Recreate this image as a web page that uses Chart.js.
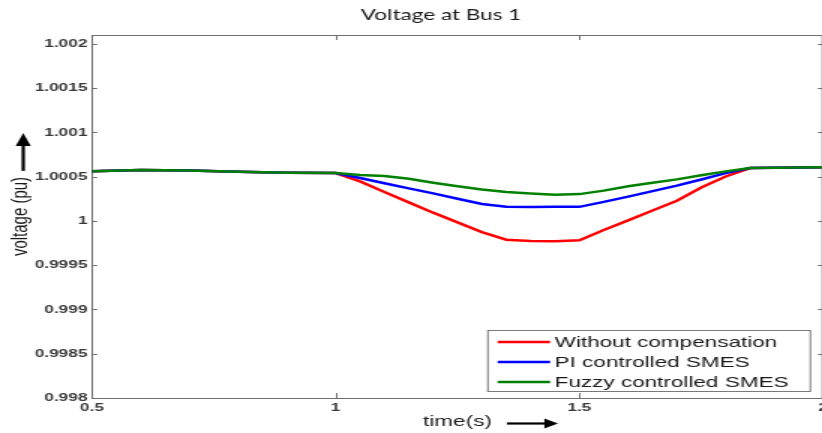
<!DOCTYPE html>
<html>
<head>
<meta charset="utf-8">
<script src="https://cdn.jsdelivr.net/npm/chart.js@4/dist/chart.umd.min.js"></script>
<style>
  html, body { margin: 0; padding: 0; background: #fff; }
  #frame { width: 822px; height: 433px; overflow: hidden; position: relative; }
  /* the reference picture is stretched sideways, so draw narrow and stretch */
  #stretch { width: 550px; height: 433px; transform: scaleX(1.5); transform-origin: 0 0; }
</style>
</head>
<body>
<div id="frame"><div id="stretch"><canvas id="chart"></canvas></div></div>
<script>
// time axis (s)
const times = [0.5, 0.6, 0.7, 0.8, 0.9, 1.0, 1.05, 1.1, 1.15, 1.2, 1.25, 1.3, 1.35, 1.4, 1.45, 1.5, 1.55, 1.6, 1.65, 1.7, 1.75, 1.8, 1.85, 1.9, 2.0];

// voltage at bus 1 (pu)
const withoutComp = [1.00056, 1.000575, 1.00057, 1.000555, 1.000545, 1.00054, 1.000446, 1.000327, 1.00021, 1.000093, 0.999983, 0.999873, 0.999788, 0.999772, 0.99977, 0.999782, 0.999897, 1.000007, 1.000118, 1.000228, 1.000378, 1.000502, 1.000597, 1.000602, 1.000606];
const piSmes = [1.00056, 1.000575, 1.00057, 1.000555, 1.000545, 1.00054, 1.000485, 1.000425, 1.000368, 1.000311, 1.000251, 1.000192, 1.000159, 1.000158, 1.00016, 1.000159, 1.000215, 1.000275, 1.000336, 1.000398, 1.000468, 1.00054, 1.000597, 1.000602, 1.000606];
const fuzzySmes = [1.00056, 1.000575, 1.00057, 1.000555, 1.000545, 1.00054, 1.00052, 1.000507, 1.000476, 1.000432, 1.000391, 1.000354, 1.000326, 1.000311, 1.000295, 1.000303, 1.000342, 1.000392, 1.000432, 1.000469, 1.000515, 1.00056, 1.000597, 1.000602, 1.000606];

const seriesNames = ['Without compensation', 'PI controlled SMES', 'Fuzzy controlled SMES'];
const xTicks = [0.5, 1, 1.5, 2];
const yTicks = [0.998, 0.9985, 0.999, 0.9995, 1, 1.0005, 1.001, 1.0015, 1.002];
const chartTitle = 'Voltage at Bus 1';

const tickFont = { family: 'Liberation Sans', size: 11.5, weight: 'bold' };

function pairs(ys) {
  return times.map((t, i) => ({ x: t, y: ys[i] }));
}

// title, inward tick marks, top frame, legend box and the little arrows
const decorations = {
  id: 'decorations',
  afterDatasetsDraw(chart) {
    const ctx = chart.ctx;
    const a = chart.chartArea;
    const xs = chart.scales.x, ys = chart.scales.y;
    ctx.save();

    // title (sits a bit left of the plot centre in the picture)
    ctx.fillStyle = '#1a1a1a';
    ctx.font = '15px Lato';
    ctx.textAlign = 'center';
    ctx.textBaseline = 'middle';
    ctx.fillText(chartTitle, 294, 15);

    ctx.strokeStyle = '#6f6f6f';
    ctx.lineWidth = 1;
    ctx.beginPath();
    ctx.moveTo(a.left, a.top + 0.5); ctx.lineTo(a.right, a.top + 0.5);
    ctx.moveTo(a.right - 0.5, a.top); ctx.lineTo(a.right - 0.5, a.bottom);
    xTicks.forEach(v => {
      const px = Math.round(xs.getPixelForValue(v)) + 0.5;
      ctx.moveTo(px, a.bottom); ctx.lineTo(px, a.bottom - 5);
      ctx.moveTo(px, a.top); ctx.lineTo(px, a.top + 5);
    });
    yTicks.forEach(v => {
      const py = Math.round(ys.getPixelForValue(v)) + 0.5;
      ctx.moveTo(a.left, py); ctx.lineTo(a.left + 3.5, py);
      ctx.moveTo(a.right, py); ctx.lineTo(a.right - 3.5, py);
    });
    ctx.stroke();

    // legend
    const bw = 215, bh = 61;
    const bx = a.right - 9 - bw, by = a.bottom - 7 - bh;
    ctx.fillStyle = '#fff';
    ctx.fillRect(bx, by, bw, bh);
    ctx.strokeStyle = '#7a7a7a';
    ctx.strokeRect(bx + 0.5, by + 0.5, bw, bh);
    ctx.font = '15px "Liberation Sans"';
    ctx.textBaseline = 'middle';
    ctx.textAlign = 'left';
    chart.data.datasets.forEach((ds, i) => {
      const ry = by + 12 + i * 20;
      ctx.strokeStyle = ds.borderColor;
      ctx.lineWidth = 2.5;
      ctx.beginPath();
      ctx.moveTo(bx + 7, ry); ctx.lineTo(bx + 42, ry);
      ctx.stroke();
      ctx.fillStyle = '#1a1a1a';
      ctx.fillText(ds.label, bx + 45, ry + 1);
    });

    // arrows next to the axis titles
    ctx.fillStyle = '#000';
    ctx.strokeStyle = '#000';
    ctx.lineWidth = 2.2;
    ctx.font = '15px "Liberation Sans"';
    const ylen = ctx.measureText(chart.options.scales.y.title.text).width;
    const ycx = 15.5, ycy = (a.top + a.bottom) / 2;
    const y0 = ycy - ylen / 2 - 6, y1 = y0 - 38;
    ctx.beginPath(); ctx.moveTo(ycx, y0); ctx.lineTo(ycx, y1 + 8); ctx.stroke();
    ctx.beginPath(); ctx.moveTo(ycx, y1); ctx.lineTo(ycx - 5, y1 + 13); ctx.lineTo(ycx + 5, y1 + 13); ctx.closePath(); ctx.fill();
    const xlen = ctx.measureText(chart.options.scales.x.title.text).width;
    const xcx = (a.left + a.right) / 2, xcy = 423.5;
    const x0 = xcx + xlen / 2 + 10, x1 = x0 + 34;
    ctx.beginPath(); ctx.moveTo(x0, xcy); ctx.lineTo(x1 - 6, xcy); ctx.stroke();
    ctx.beginPath(); ctx.moveTo(x1, xcy); ctx.lineTo(x1 - 9, xcy - 5); ctx.lineTo(x1 - 9, xcy + 5); ctx.closePath(); ctx.fill();
    ctx.restore();
  }
};

const colors = ['#ff0000', '#0000ff', '#008000'];
const values = [withoutComp, piSmes, fuzzySmes];

new Chart(document.getElementById('chart'), {
  type: 'line',
  data: {
    datasets: values.map((v, i) => ({
      label: seriesNames[i],
      data: pairs(v),
      borderColor: colors[i],
      backgroundColor: colors[i],
      borderWidth: 2.5,
      pointRadius: 0,
      tension: 0,
      order: 2 - i
    }))
  },
  options: {
    responsive: true,
    maintainAspectRatio: false,
    animation: false,
    layout: { padding: { left: 0, right: 0, top: 35, bottom: 0 } },
    plugins: {
      legend: { display: false },
      tooltip: { enabled: false },
      title: { display: false }
    },
    scales: {
      x: {
        type: 'linear',
        min: 0.5,
        max: 2,
        afterFit: s => { s.height = 35; s.paddingRight = 0; s.paddingLeft = 0; },
        afterBuildTicks: s => { s.ticks = xTicks.map(v => ({ value: v })); },
        grid: { display: false, drawTicks: false },
        border: { display: true, color: '#6f6f6f', width: 1 },
        ticks: {
          color: '#3a3a3a',
          font: tickFont,
          padding: 3,
          maxRotation: 0,
          callback: v => String(v)
        },
        title: {
          display: true,
          text: 'time(s)',
          color: '#1a1a1a',
          font: { family: 'Liberation Sans', size: 15 },
          padding: { top: 0, bottom: 2 }
        }
      },
      y: {
        min: 0.998,
        max: 1.0021,
        afterFit: s => { s.width = 61.3; s.paddingTop = 0; s.paddingBottom = 0; },
        afterBuildTicks: s => { s.ticks = yTicks.map(v => ({ value: v })); },
        grid: { display: false, drawTicks: false },
        border: { display: true, color: '#6f6f6f', width: 1 },
        ticks: {
          color: '#3a3a3a',
          font: tickFont,
          padding: 3,
          callback: v => String(Number(v.toFixed(4)))
        },
        title: {
          display: true,
          text: 'voltage (pu)',
          color: '#1a1a1a',
          font: { family: 'Liberation Sans', size: 15 },
          padding: { top: 5, bottom: 0 }
        }
      }
    }
  },
  plugins: [decorations]
});
</script>
</body>
</html>
